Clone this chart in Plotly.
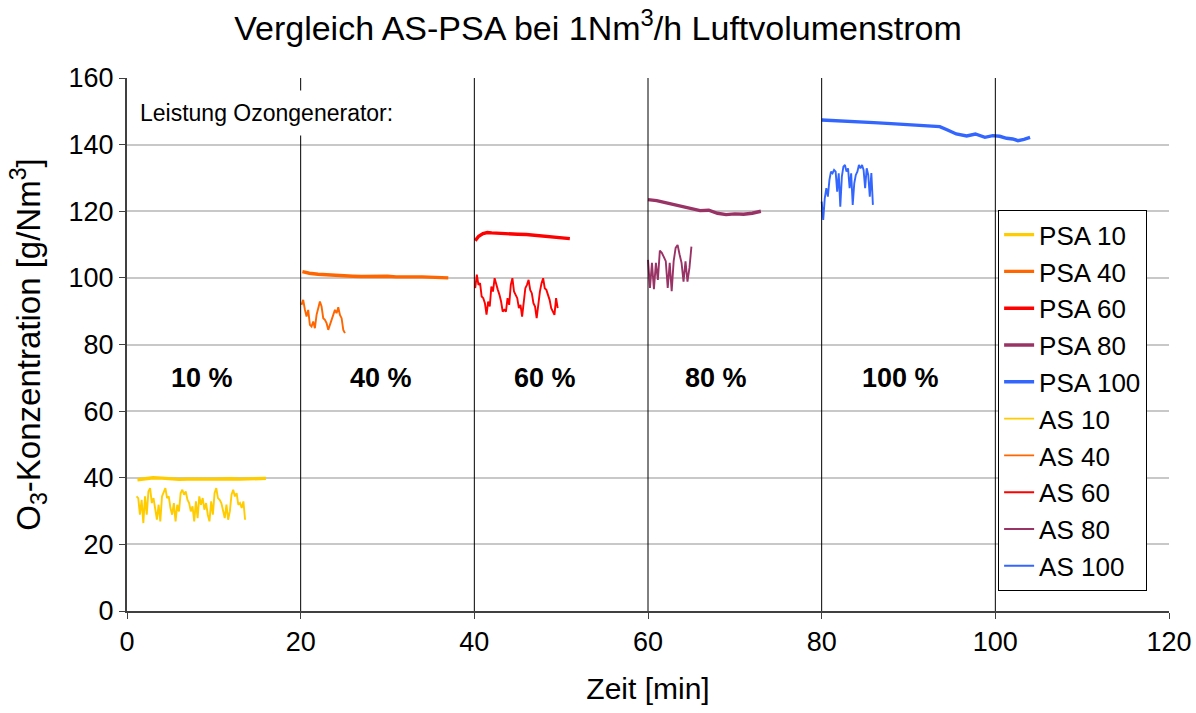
import numpy as np
import plotly.graph_objects as go

# ---------------- data ----------------
psa10_x = [1.2, 2, 3, 4, 5, 6, 7, 8, 9, 10, 11, 12, 13, 14, 15, 16]
psa10_y = [39.4, 39.6, 40.0, 39.9, 39.7, 39.5, 39.6, 39.7, 39.6, 39.6, 39.7, 39.7, 39.6, 39.7, 39.7, 39.8]

psa40_x = [20.2, 21, 22, 23, 24, 25, 26, 27, 28, 29, 30, 31, 32, 33, 34, 35, 36, 37]
psa40_y = [101.9, 101.4, 101.1, 100.9, 100.8, 100.6, 100.5, 100.4, 100.5, 100.6, 100.5, 100.3,
           100.2, 100.3, 100.3, 100.2, 100.1, 100.0]

psa60_x = [40.1, 40.5, 41, 41.5, 42, 43, 44, 45, 46, 47, 48, 49, 50, 51]
psa60_y = [111.2, 112.5, 113.3, 113.6, 113.5, 113.3, 113.3, 113.1, 113.0, 112.8, 112.4, 112.2, 112.0, 111.8]

psa80_x = [60, 61, 62, 63, 64, 65, 66, 67, 68, 69, 70, 71, 72, 73]
psa80_y = [123.5, 123.2, 122.6, 122.0, 121.4, 120.8, 120.2, 120.3, 119.4, 119.0, 119.2, 119.1, 119.4, 120.0]

psa100_x = [80, 82, 84, 86, 88, 90, 92, 93.6, 94.5, 95.5, 96.7, 97.7, 98.8, 99.7, 100.5, 101.3,
            102, 102.6, 103.3, 104]
psa100_y = [147.4, 147.2, 146.9, 146.6, 146.3, 146.0, 145.7, 145.4, 144.4, 143.2, 142.6, 143.2,
            142.2, 142.7, 142.5, 141.9, 141.7, 141.2, 141.6, 142.2]

as10_t = [1.1, 13.6]
as10_y = [34.4, 33.9, 28.9, 33.4, 26.4, 34.4, 28.9, 35.9, 36.9, 32.4, 33.9, 29.9, 27.4, 31.9,
          26.9, 34.4, 35.9, 36.9, 33.9, 34.4, 30.9, 28.9, 32.4, 26.9, 31.9, 29.9, 35.4, 36.4,
          34.9, 35.9, 33.4, 32.4, 29.9, 31.4, 26.9, 32.9, 27.9, 34.4, 31.9, 33.9, 30.4, 32.4,
          28.9, 26.9, 32.9, 28.9, 35.4, 36.9, 33.9, 33.4, 32.4, 30.4, 27.9, 31.9, 27.4, 29.9,
          34.9, 36.4, 34.4, 35.4, 31.9, 32.4, 30.9, 32.9, 27.4]

as40_t = [20.1, 25.1]
as40_y = [91.9, 93.4, 90.5, 88.4, 90.4, 85.9, 85.4, 86.9, 84.9, 88.9, 90.9, 92.9, 91.4, 87.9,
          87.4, 86.4, 84.4, 85.9, 87.9, 89.4, 90.4, 89.4, 91.2, 88.9, 87.9, 84.4, 83.4]

as60_t = [40.1, 49.6]
as60_y = [96.9, 101.0, 97.9, 98.4, 94.4, 93.9, 92.4, 89.0, 92.9, 91.4, 97.4, 95.9, 99.9, 97.9,
          96.4, 94.9, 92.9, 89.9, 90.4, 89.9, 93.9, 91.9, 97.9, 99.9, 95.9, 94.9, 93.9, 90.9,
          91.9, 88.4, 92.9, 96.9, 97.9, 99.4, 96.4, 95.4, 92.4, 91.4, 87.9, 92.9, 95.9, 98.4,
          99.9, 96.9, 96.4, 94.9, 93.4, 90.9, 89.9, 88.9, 93.9, 90.9]

as80_t = [60.0, 65.0]
as80_y = [105.4, 97.0, 104.5, 96.6, 104.5, 99.4, 108.2, 107.5, 106.3, 105.0, 97.0, 104.5,
          96.0, 105.0, 109.0, 109.9, 107.0, 104.5, 98.9, 105.0, 98.9, 103.0, 109.4]

as100_t = [80.0, 85.9]
as100_y = [122.9, 117.4, 123.9, 126.9, 124.4, 129.4, 131.9, 131.4, 132.4, 131.9, 125.9, 131.4,
           121.4, 130.4, 133.4, 133.9, 131.9, 132.9, 126.9, 131.4, 121.9, 128.4, 130.9, 131.9,
           133.9, 132.9, 133.9, 132.4, 126.9, 132.9, 130.9, 124.4, 131.5, 121.9]

stage_labels = ["10 %", "40 %", "60 %", "80 %", "100 %"]
stage_x = [8.6, 29.3, 48.1, 67.8, 89.1]
stage_y = 70
divider_x = [20, 40, 60, 80, 100]

# ---------------- styles ----------------
FONT = "Liberation Sans, Arial, sans-serif"
col = {"10": "#FFCC00", "40": "#FF6600", "60": "#FF0000", "80": "#993366", "100": "#3366FF"}

fig = go.Figure()

psa = [("10", psa10_x, psa10_y), ("40", psa40_x, psa40_y), ("60", psa60_x, psa60_y),
       ("80", psa80_x, psa80_y), ("100", psa100_x, psa100_y)]
for k, xs, ys in psa:
    fig.add_trace(go.Scatter(x=xs, y=ys, mode="lines", name=f"PSA {k}",
                             line=dict(color=col[k], width=3.4)))

as_series = [("10", as10_t, as10_y), ("40", as40_t, as40_y), ("60", as60_t, as60_y),
             ("80", as80_t, as80_y), ("100", as100_t, as100_y)]
for k, t, ys in as_series:
    xs = np.linspace(t[0], t[1], len(ys))
    fig.add_trace(go.Scatter(x=xs, y=ys, mode="lines", name=f"AS {k}",
                             line=dict(color=col[k], width=1.9)))

for xv in divider_x:
    fig.add_shape(type="line", x0=xv, x1=xv, y0=0, y1=160, xref="x", yref="y",
                  line=dict(color="black", width=1), layer="above")

for lab, xv in zip(stage_labels, stage_x):
    fig.add_annotation(x=xv, y=stage_y, text=f"<b>{lab}</b>", showarrow=False,
                       font=dict(size=27, color="black", family=FONT))

fig.add_annotation(x=0, y=149.5, xref="x", yref="y", xanchor="left", xshift=3,
                   text="Leistung Ozongenerator:", showarrow=False, bgcolor="white",
                   font=dict(size=23, color="black", family=FONT), borderpad=9)

fig.update_layout(
    width=1196, height=713,
    paper_bgcolor="white", plot_bgcolor="white",
    margin=dict(l=127, r=27, t=78, b=102),
    font=dict(family=FONT, color="black", size=26),
    title=dict(text="Vergleich AS-PSA bei 1Nm<sup>3</sup>/h Luftvolumenstrom",
               x=0.5, xanchor="center", y=0.96, yanchor="middle",
               font=dict(size=34, family=FONT, color="black")),
    xaxis=dict(range=[0, 120], tickvals=[0, 20, 40, 60, 80, 100, 120], showgrid=False,
               zeroline=False, showline=True, linecolor="#404040", linewidth=2,
               ticks="outside", ticklen=6, tickcolor="#404040", automargin=False,
               title=dict(text="Zeit [min]", font=dict(size=30, family=FONT), standoff=22),
               tickfont=dict(size=27, family=FONT)),
    yaxis=dict(range=[0, 160], tickvals=[0, 20, 40, 60, 80, 100, 120, 140, 160],
               showgrid=True, gridcolor="#C8C8C8", gridwidth=1.5, zeroline=False,
               showline=True, linecolor="#404040", linewidth=2,
               ticks="outside", ticklen=6, tickcolor="#404040", automargin=False,
               title=dict(text="O<sub>3</sub>-Konzentration [g/Nm<sup>3</sup>]",
                          font=dict(size=33, family=FONT), standoff=18),
               tickfont=dict(size=27, family=FONT)),
    legend=dict(x=0.836, y=0.752, xanchor="left", yanchor="top",
                bordercolor="black", borderwidth=1, bgcolor="white",
                font=dict(size=26, family=FONT), tracegroupgap=0, itemwidth=30),
    showlegend=True,
)

fig.write_html("out.html", config={"displayModeBar": False},
               post_script="document.body.style.margin='0';")
